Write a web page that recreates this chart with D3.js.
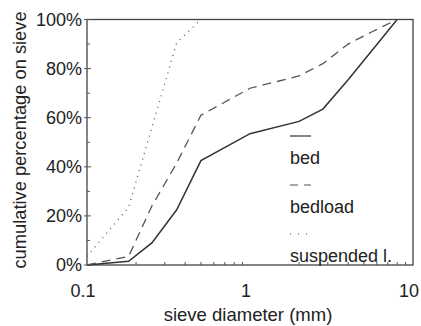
<!DOCTYPE html>
<html>
<head>
<meta charset="utf-8">
<script src="https://cdn.jsdelivr.net/npm/d3@7"></script>
<style>
  body { margin: 0; background: #fff; }
  svg { display: block; font-family: "Liberation Sans", Arial, sans-serif; }
</style>
</head>
<body>
<svg id="chart" width="421" height="326"></svg>
<script>
// sieve sizes (mm) and cumulative percentages
const bedSize = [0.1, 0.18, 0.25, 0.355, 0.5, 1, 2, 2.8, 4, 8];
const bedPct = [0, 1.5, 9, 22.5, 42.5, 53.5, 58.5, 63.5, 75.5, 100];

const bedloadSize = [0.1, 0.18, 0.25, 0.355, 0.5, 1, 2, 2.8, 4, 5.6, 8];
const bedloadPct = [0, 3.5, 24, 41.5, 61, 72, 77, 82, 90, 95, 100];

const suspSize = [0.1, 0.18, 0.25, 0.355, 0.5];
const suspPct = [3.5, 23.5, 56, 90.5, 100];

const xTicks = [0.1, 1, 10];
const yTicks = [0, 20, 40, 60, 80, 100];

const legendLabels = ['bed', 'bedload', 'suspended l.'];

(() => {
  let svg = d3.select('#chart');
  let pLeft = 87, pRight = 413, pTop = 19.5, pBottom = 265;
  let fontSize = '18px';

  let x = d3.scaleLog().domain([0.1, 10]).range([pLeft, pRight]);
  let y = d3.scaleLinear().domain([0, 100]).range([pBottom, pTop]);

  // frame
  svg.append('rect')
    .attr('x', pLeft).attr('y', pTop)
    .attr('width', pRight - pLeft).attr('height', pBottom - pTop)
    .attr('fill', 'none').attr('stroke', '#444').attr('stroke-width', 1.3);

  // inward ticks
  let minorX = [];
  [0.1, 1].forEach(d => { for (let k = 2; k <= 9; k++) minorX.push(d * k); });
  svg.append('g')
    .selectAll('line').data(minorX).enter().append('line')
    .attr('x1', d => x(d)).attr('x2', d => x(d))
    .attr('y1', pBottom).attr('y2', pBottom - 3)
    .attr('stroke', '#555').attr('stroke-width', 1);
  svg.append('g')
    .selectAll('line').data(d3.range(0, 101, 10)).enter().append('line')
    .attr('x1', pLeft).attr('x2', d => pLeft + (d % 20 === 0 ? 4 : 3))
    .attr('y1', d => y(d)).attr('y2', d => y(d))
    .attr('stroke', '#555').attr('stroke-width', 1);
  svg.append('g')
    .selectAll('line').data(yTicks).enter().append('line')
    .attr('x1', pLeft - 3).attr('x2', pLeft)
    .attr('y1', d => y(d)).attr('y2', d => y(d))
    .attr('stroke', '#555').attr('stroke-width', 1);

  // tick labels
  svg.append('g')
    .selectAll('text').data(yTicks).enter().append('text')
    .attr('x', pLeft - 5).attr('y', d => y(d) + 6.3)
    .attr('text-anchor', 'end')
    .style('font-size', fontSize).attr('fill', '#222')
    .text(d => d + '%');
  svg.append('g')
    .selectAll('text').data(xTicks).enter().append('text')
    .attr('x', d => x(d) - 4).attr('y', 297)
    .attr('text-anchor', 'middle')
    .style('font-size', fontSize).attr('fill', '#222')
    .text(d => d3.format('~g')(d));

  // axis titles
  svg.append('text')
    .attr('x', 248).attr('y', 321)
    .attr('text-anchor', 'middle')
    .style('font-size', '18.5px').attr('fill', '#222')
    .text('sieve diameter (mm)');
  svg.append('text')
    .attr('transform', 'translate(26,140) rotate(-90)')
    .attr('text-anchor', 'middle')
    .style('font-size', '18.3px').attr('fill', '#222')
    .text('cumulative percentage on sieve');

  // series
  let line = d3.line().x(d => x(d[0])).y(d => y(d[1]));
  let series = [
    { pts: d3.zip(bedSize, bedPct), color: '#333', width: 1.5, dash: null },
    { pts: d3.zip(bedloadSize, bedloadPct), color: '#555', width: 1.3, dash: '9,6' },
    { pts: d3.zip(suspSize, suspPct), color: '#555', width: 1.3, dash: '1,5' }
  ];
  series.forEach(s => {
    svg.append('path')
      .attr('d', line(s.pts))
      .attr('fill', 'none')
      .attr('stroke', s.color)
      .attr('stroke-width', s.width)
      .attr('stroke-dasharray', s.dash);
  });

  // legend
  let legend = svg.selectAll('.legend')
    .data(legendLabels).enter().append('g')
    .attr('class', 'legend')
    .attr('transform', (d, i) => 'translate(290,' + (136 + i * 49) + ')');
  legend.append('line')
    .attr('x1', 0).attr('x2', 21).attr('y1', 0).attr('y2', 0)
    .attr('stroke', (d, i) => series[i].color)
    .attr('stroke-width', 1.2)
    .attr('stroke-dasharray', (d, i) => i === 1 ? '8,6' : i === 2 ? '1,7' : null);
  legend.append('text')
    .attr('x', 0).attr('y', 27.5)
    .style('font-size', fontSize).attr('fill', '#222')
    .text(d => d);
})();
</script>
</body>
</html>
